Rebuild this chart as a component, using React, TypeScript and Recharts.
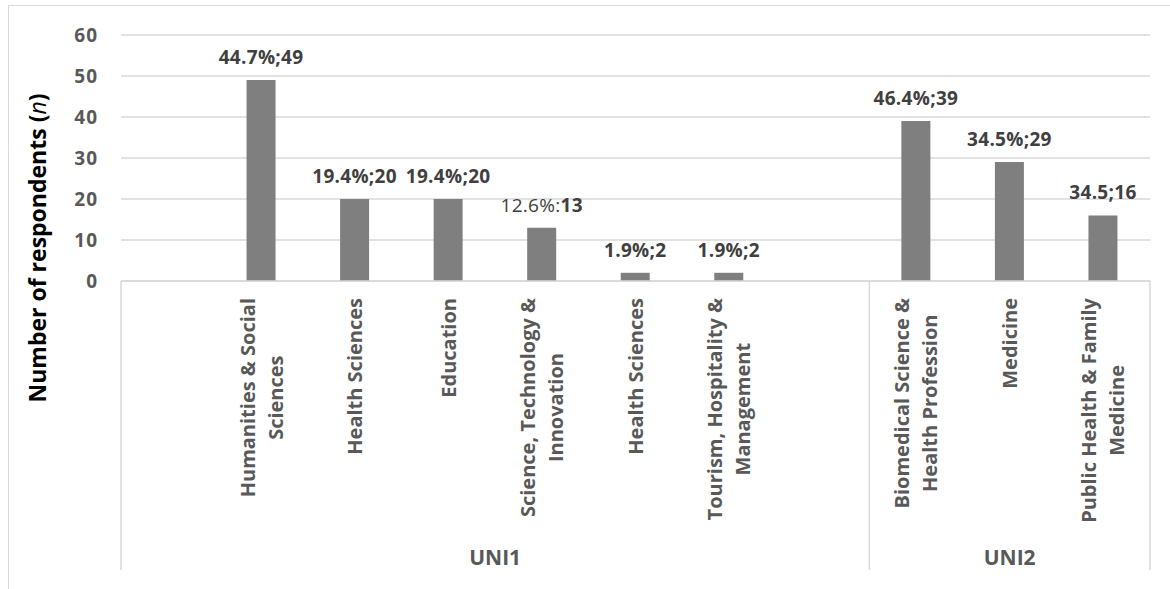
import { BarChart, Bar, XAxis, YAxis, CartesianGrid, LabelList } from "recharts";

// faculties in plotting order; "" keeps an empty slot at each end of UNI1
const faculties = [
  "",
  "Humanities & Social\nSciences",
  "Health Sciences",
  "Education",
  "Science, Technology &\nInnovation",
  "Health Sciences",
  "Tourism, Hospitality &\nManagement",
  "",
  "Biomedical Science &\nHealth Profession",
  "Medicine",
  "Public Health & Family\nMedicine",
];
const universities = ["UNI1", "UNI1", "UNI1", "UNI1", "UNI1", "UNI1", "UNI1", "UNI1", "UNI2", "UNI2", "UNI2"];
const respondents = [null, 49, 20, 20, 13, 2, 2, null, 39, 29, 16];
const shares = ["", "44.7%;", "19.4%;", "19.4%;", "12.6%:", "1.9%;", "1.9%;", "", "46.4%;", "34.5%;", "34.5;"];
const plainShare = [false, false, false, false, true, false, false, false, false, false, false];
const yTicks = [0, 10, 20, 30, 40, 50, 60];

const data = faculties.map((name, i) => ({
  row: i,
  name,
  uni: universities[i],
  n: respondents[i],
  share: shares[i],
  plain: plainShare[i],
}));

const FONT = "'Open Sans', sans-serif";
const GRID = "#d9d9d9";
const AXIS_TEXT = "#595959";
const LABEL_TEXT = "#404040";
const CAT_SIZE = 20;
const CAT_LINE = 28;

let measureCtx: CanvasRenderingContext2D | null = null;
function textWidth(s: string, font: string) {
  if (!measureCtx) measureCtx = document.createElement("canvas").getContext("2d");
  if (!measureCtx) return s.length * 10;
  measureCtx.font = font;
  return measureCtx.measureText(s).width;
}

function FacultyTick(props: any) {
  const { x, y, payload } = props;
  const i: number = payload.index;
  const half: number = payload.offset;
  const lines = String(payload.value).split("\n").filter(Boolean);
  const len = Math.max(0, ...lines.map((l) => textWidth(l, `bold ${CAT_SIZE}px 'Open Sans'`)));
  const cy = y + 17 + len / 2;

  const uni = universities[i];
  const first = universities.indexOf(uni);
  const count = universities.filter((u) => u === uni).length;
  const isFirst = i === first;
  const isLast = i === universities.length - 1;

  return (
    <g>
      {lines.length > 0 && (
        <text
          transform={`translate(${x},${cy}) rotate(-90)`}
          textAnchor="middle"
          fontFamily={FONT}
          fontWeight={700}
          fontSize={CAT_SIZE}
          fill={AXIS_TEXT}
        >
          {lines.map((l, j) => (
            <tspan key={j} x={0} y={(j - (lines.length - 1) / 2) * CAT_LINE + CAT_SIZE * 0.36}>
              {l}
            </tspan>
          ))}
        </text>
      )}
      {isFirst && <line x1={x - half} x2={x - half} y1={y} y2={y + 289} stroke={GRID} strokeWidth={1.5} />}
      {isFirst && (
        <text
          x={x - half + count * half}
          y={y + 284}
          textAnchor="middle"
          fontFamily={FONT}
          fontWeight={700}
          fontSize={21}
          fill={AXIS_TEXT}
        >
          {uni}
        </text>
      )}
      {isLast && <line x1={x + half} x2={x + half} y1={y} y2={y + 289} stroke={GRID} strokeWidth={1.5} />}
    </g>
  );
}

// value carries the row number so the label can look up its own share text
function ShareLabel(props: any) {
  const { x, y, width, value } = props;
  const d = data[value];
  if (!d || d.n == null) return null;
  return (
    <text
      x={x + width / 2}
      y={y - 16}
      textAnchor="middle"
      fontFamily={FONT}
      fontSize={19}
      letterSpacing={0.3}
      fill={LABEL_TEXT}
    >
      <tspan fontWeight={d.plain ? 400 : 700}>{d.share}</tspan>
      <tspan fontWeight={700}>{d.n}</tspan>
    </text>
  );
}

function YTitle(props: any) {
  const vb = props.viewBox;
  const x = vb.x + 30;
  const y = vb.y + vb.height / 2 + 90;
  return (
    <text
      transform={`translate(${x},${y}) rotate(-90)`}
      textAnchor="middle"
      fontFamily={FONT}
      fontSize={23}
      fontWeight={700}
      fill="#000"
      dy={8}
    >
      Number of respondents (<tspan fontStyle="italic" fontWeight={400}>n</tspan>)
    </text>
  );
}

export default function App() {
  return (
    <div style={{ position: "absolute", left: 8, top: 5, width: 1162, height: 584 }}>
      <div
        style={{
          position: "absolute",
          inset: 0,
          borderTop: `1px solid ${GRID}`,
          borderLeft: `1px solid ${GRID}`,
        }}
      />
      <BarChart
        width={1162}
        height={584}
        data={data}
        margin={{ top: 30, right: 20, bottom: 0, left: 0 }}
        style={{ position: "absolute", left: 0, top: 0 }}
      >
        <CartesianGrid vertical={false} stroke={GRID} strokeWidth={1.5} />
        <YAxis
          domain={[0, 60]}
          ticks={yTicks}
          width={113}
          axisLine={false}
          tickLine={false}
          tickSize={0}
          tickMargin={23}
          tick={{ fontFamily: FONT, fontSize: 19, fontWeight: 700, fill: AXIS_TEXT, letterSpacing: 1 }}
          label={YTitle}
        />
        <XAxis
          dataKey="name"
          interval={0}
          height={308}
          tickSize={0}
          tickMargin={0}
          tickLine={false}
          axisLine={{ stroke: GRID, strokeWidth: 1.5 }}
          tick={<FacultyTick />}
        />
        <Bar dataKey="n" fill="#7f7f7f" barSize={29} isAnimationActive={false}>
          <LabelList dataKey="row" content={ShareLabel} />
        </Bar>
      </BarChart>
    </div>
  );
}
